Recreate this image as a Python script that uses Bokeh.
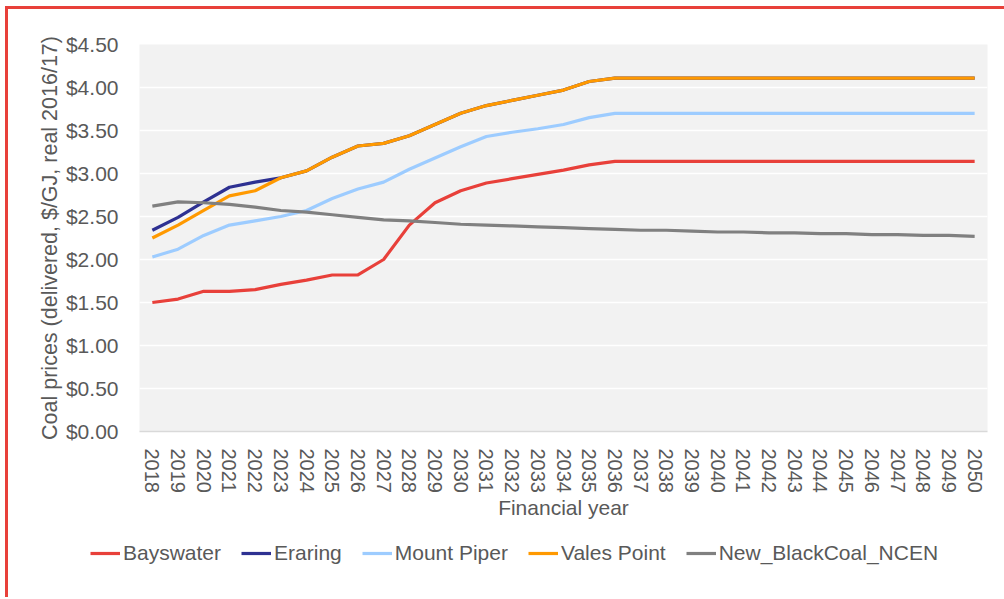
from bokeh.plotting import figure
from bokeh.layouts import column
from bokeh.models import (ColumnDataSource, FactorRange, FixedTicker, NumeralTickFormatter,
                          Legend, LegendItem, Range1d)
from bokeh.embed import file_html
from bokeh.resources import INLINE

years = ["2018", "2019", "2020", "2021", "2022", "2023", "2024", "2025", "2026", "2027",
         "2028", "2029", "2030", "2031", "2032", "2033", "2034", "2035", "2036", "2037",
         "2038", "2039", "2040", "2041", "2042", "2043", "2044", "2045", "2046", "2047",
         "2048", "2049", "2050"]

bayswater = [1.50, 1.54, 1.63, 1.63, 1.65, 1.71, 1.76, 1.82, 1.82, 2.00,
             2.40, 2.66, 2.80, 2.89, 2.94, 2.99, 3.04, 3.10, 3.14, 3.14,
             3.14, 3.14, 3.14, 3.14, 3.14, 3.14, 3.14, 3.14, 3.14, 3.14,
             3.14, 3.14, 3.14]

eraring = [2.34, 2.49, 2.67, 2.84, 2.90, 2.95, 3.03, 3.19, 3.32, 3.35,
           3.44, 3.57, 3.70, 3.79, 3.85, 3.91, 3.97, 4.07, 4.11, 4.11,
           4.11, 4.11, 4.11, 4.11, 4.11, 4.11, 4.11, 4.11, 4.11, 4.11,
           4.11, 4.11, 4.11]

mount_piper = [2.03, 2.12, 2.28, 2.40, 2.45, 2.50, 2.57, 2.71, 2.82, 2.90,
               3.05, 3.18, 3.31, 3.43, 3.48, 3.52, 3.57, 3.65, 3.70, 3.70,
               3.70, 3.70, 3.70, 3.70, 3.70, 3.70, 3.70, 3.70, 3.70, 3.70,
               3.70, 3.70, 3.70]

vales_point = [2.25, 2.40, 2.57, 2.74, 2.80, 2.95, 3.03, 3.19, 3.32, 3.35,
               3.44, 3.57, 3.70, 3.79, 3.85, 3.91, 3.97, 4.07, 4.11, 4.11,
               4.11, 4.11, 4.11, 4.11, 4.11, 4.11, 4.11, 4.11, 4.11, 4.11,
               4.11, 4.11, 4.11]

new_blackcoal = [2.62, 2.67, 2.66, 2.64, 2.61, 2.57, 2.55, 2.52, 2.49, 2.46,
                 2.45, 2.43, 2.41, 2.40, 2.39, 2.38, 2.37, 2.36, 2.35, 2.34,
                 2.34, 2.33, 2.32, 2.32, 2.31, 2.31, 2.30, 2.30, 2.29, 2.29,
                 2.28, 2.28, 2.27]

series_names = ["Bayswater", "Eraring", "Mount Piper", "Vales Point", "New_BlackCoal_NCEN"]
series_values = [bayswater, eraring, mount_piper, vales_point, new_blackcoal]
series_colors = ["#E8403A", "#2E3192", "#9DCCFF", "#FF9900", "#808080"]

y_ticks = [0, 0.5, 1.0, 1.5, 2.0, 2.5, 3.0, 3.5, 4.0, 4.5]

FONT = "Liberation Sans"
TXT = "#595959"
W = 996

p = figure(width=W, height=512, x_range=FactorRange(factors=years),
           y_range=Range1d(0, 4.5), output_backend="svg", toolbar_location=None,
           min_border_left=131, min_border_top=35, min_border_right=17,
           min_border_bottom=90)
p.frame_align = False

p.background_fill_color = "#F2F2F2"
p.border_fill_color = "white"
p.outline_line_color = None

p.xgrid.grid_line_color = None
p.ygrid.grid_line_color = "white"
p.ygrid.grid_line_width = 1.5
p.yaxis.ticker = FixedTicker(ticks=y_ticks)
p.yaxis.formatter = NumeralTickFormatter(format="$0.00")

for ax in (p.xaxis, p.yaxis):
    ax.major_tick_line_color = None
    ax.minor_tick_line_color = None
    ax.major_label_text_font = FONT
    ax.major_label_text_color = TXT
    ax.axis_label_text_font = FONT
    ax.axis_label_text_color = TXT
    ax.axis_label_text_font_style = "normal"

p.yaxis.axis_line_color = None
p.yaxis.major_label_text_font_size = "21px"
p.yaxis.major_label_standoff = 15
p.yaxis.axis_label = "Coal prices (delivered, $/GJ, real 2016/17)"
p.yaxis.axis_label_text_font_size = "21.5px"
p.yaxis.axis_label_standoff = 1

p.xaxis.axis_line_color = "#D9D9D9"
p.xaxis.axis_line_width = 1.5
p.xaxis.major_label_orientation = "vertical"
p.xaxis.major_label_text_font_size = "20px"
p.xaxis.major_label_standoff = 11
p.xaxis.axis_label = "Financial year"
p.xaxis.axis_label_text_font_size = "21px"
p.xaxis.axis_label_standoff = 0

sources = []
for name, vals, col in zip(series_names, series_values, series_colors):
    src = ColumnDataSource(dict(x=years, y=vals))
    sources.append(src)
    p.line("x", "y", source=src, line_color=col, line_width=3.2, line_join="round")

# legend strip below the chart (its own lines are kept out of view)
LH = 76
lf = figure(width=W, height=LH, x_range=FactorRange(factors=years),
            y_range=Range1d(100, 101), output_backend="svg", toolbar_location=None,
            x_axis_location=None, y_axis_location=None,
            min_border_left=0, min_border_right=0, min_border_top=0, min_border_bottom=0)
lf.frame_align = False
lf.grid.visible = False
lf.outline_line_color = None
lf.background_fill_color = "white"
lf.border_fill_color = "white"

items = []
for name, src, col in zip(series_names, sources, series_colors):
    r = lf.line("x", "y", source=src, line_color=col, line_width=3.2)
    items.append(LegendItem(label=name, renderers=[r]))

legend = Legend(items=items, orientation="horizontal", location=(82, LH - 24 - 20))
legend.label_text_font = FONT
legend.label_text_font_size = "21px"
legend.label_text_color = TXT
legend.glyph_width = 30
legend.glyph_height = 24
legend.label_height = 24
legend.label_standoff = 3
legend.spacing = 20
legend.padding = 0
legend.margin = 0
legend.border_line_color = None
legend.background_fill_alpha = 0
lf.add_layout(legend, "center")

layout = column(p, lf, spacing=0)
layout.styles = {"border-left": "3px solid #E8403A", "border-top": "3px solid #E8403A",
                 "margin-left": "5px", "margin-top": "6px"}

open("out.html", "w").write(file_html(layout, INLINE))
